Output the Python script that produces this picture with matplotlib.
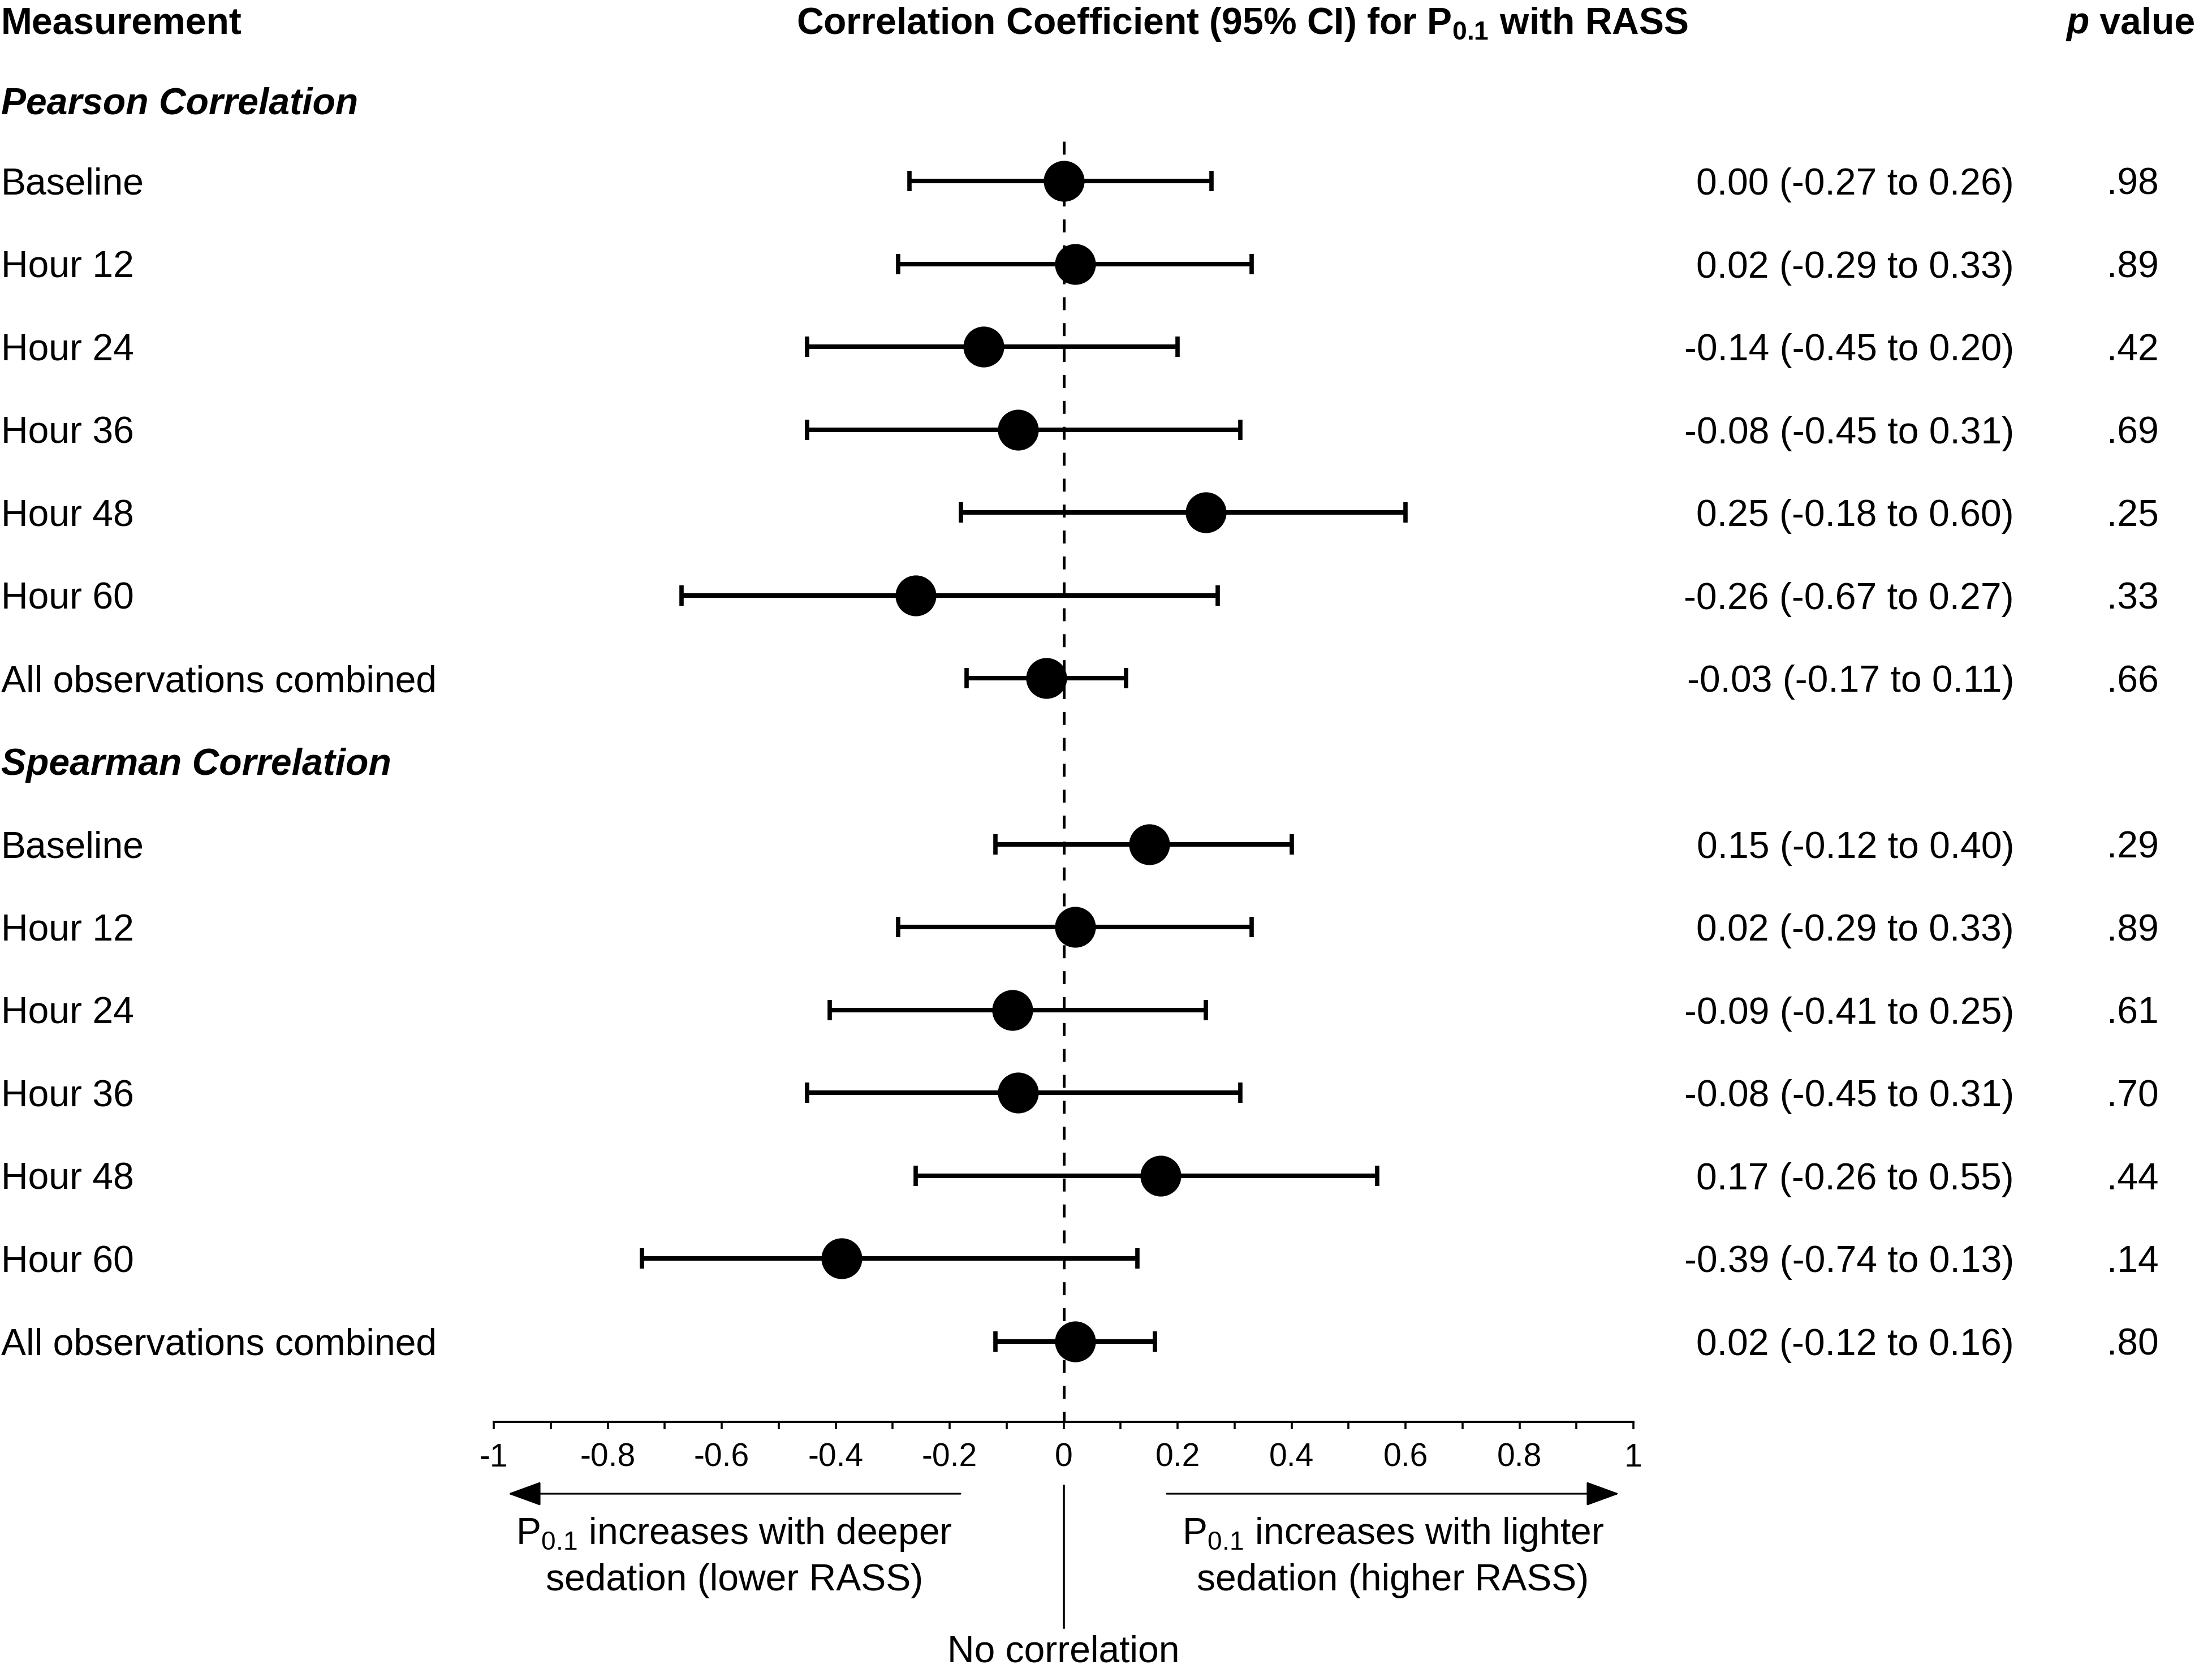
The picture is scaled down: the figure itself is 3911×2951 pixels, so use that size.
import numpy as np
import matplotlib
matplotlib.use("Agg")
import matplotlib.pyplot as plt
from matplotlib.ticker import FixedLocator

plt.rcParams['font.family'] = ['Liberation Sans', 'DejaVu Sans']
plt.rcParams['mathtext.fontset'] = 'custom'
plt.rcParams['mathtext.rm'] = 'Liberation Sans'
plt.rcParams['mathtext.it'] = 'Liberation Sans:italic'
plt.rcParams['mathtext.bf'] = 'Liberation Sans:bold'
plt.rcParams['lines.scale_dashes'] = False

# Data
measurements = ["Baseline", "Hour 12", "Hour 24", "Hour 36", "Hour 48", "Hour 60",
                "All observations combined"]

pearson_r = [0.00, 0.02, -0.14, -0.08, 0.25, -0.26, -0.03]
pearson_lo = [-0.27, -0.29, -0.45, -0.45, -0.18, -0.67, -0.17]
pearson_hi = [0.26, 0.33, 0.20, 0.31, 0.60, 0.27, 0.11]
pearson_p = [0.98, 0.89, 0.42, 0.69, 0.25, 0.33, 0.66]

spearman_r = [0.15, 0.02, -0.09, -0.08, 0.17, -0.39, 0.02]
spearman_lo = [-0.12, -0.29, -0.41, -0.45, -0.26, -0.74, -0.12]
spearman_hi = [0.40, 0.33, 0.25, 0.31, 0.55, 0.13, 0.16]
spearman_p = [0.29, 0.89, 0.61, 0.70, 0.44, 0.14, 0.80]

tick_values = [-1, -0.8, -0.6, -0.4, -0.2, 0, 0.2, 0.4, 0.6, 0.8, 1]
minor_values = [-0.9, -0.7, -0.5, -0.3, -0.1, 0.1, 0.3, 0.5, 0.7, 0.9]

FS = 47.5

fig = plt.figure(figsize=(39.11, 29.51), dpi=100)
ax = fig.add_axes([873 / 3911, 437 / 2951, 2015 / 3911, 2514 / 2951])
ax.set_xlim(-1, 1)
ax.set_ylim(16.969, -0.183)

for side in ['top', 'left', 'right']:
    ax.spines[side].set_visible(False)
ax.spines['bottom'].set_linewidth(2.8)
ax.set_yticks([])

ax.xaxis.set_major_locator(FixedLocator(tick_values))
ax.xaxis.set_minor_locator(FixedLocator(minor_values))
ax.set_xticklabels([f"{v:g}" for v in tick_values])
ax.tick_params(axis='x', which='both', direction='out', length=9.5, width=2.6,
               pad=17, labelsize=41)

# dashed line of no effect
ax.plot([0, 0], [1.52, 16.969], color='black', lw=3.6,
        ls=(0, (16.5, 16.5)), zorder=1)

# each block: section title row, then the measurement rows
blocks = [
    ("Pearson Correlation", 1.025, 2, pearson_r, pearson_lo, pearson_hi, pearson_p),
    ("Spearman Correlation", 9, 10, spearman_r, spearman_lo, spearman_hi, spearman_p),
]

x_left = -1.8645
x_ci = 1.668
x_p = 1.922

for title, title_row, first_row, r, lo, hi, p in blocks:
    rows = np.arange(first_row, first_row + len(r))
    r = np.array(r)
    err = [r - np.array(lo), np.array(hi) - r]
    ax.errorbar(r, rows, xerr=err, fmt='o', color='black', mfc='black', mec='black',
                ms=51, elinewidth=5.8, capsize=13.3, capthick=5.5, zorder=3)
    ax.text(x_left, title_row, title, fontsize=FS, fontweight='bold', fontstyle='italic',
            ha='left', va='center_baseline')
    for row, name, est, l, h, pv in zip(rows, measurements, r, lo, hi, p):
        ax.text(x_left, row, name, fontsize=FS, ha='left', va='center_baseline')
        ax.text(x_ci, row, f"{est:.2f} ({l:.2f} to {h:.2f})", fontsize=FS,
                ha='right', va='center_baseline')
        ax.text(x_p, row, f"{pv:.2f}".lstrip('0'), fontsize=FS,
                ha='right', va='center_baseline')

# column headers
ax.text(x_left, 0.056, "Measurement", fontsize=FS, fontweight='bold',
        ha='left', va='center_baseline')
ax.text(0.314, 0.056, r"Correlation Coefficient (95% CI) for $\mathbf{P}_{\mathbf{0.1}}$ with RASS",
        fontsize=FS, fontweight='bold', ha='center', va='center_baseline')
val = ax.text(1.986, 0.056, " value", fontsize=FS, fontweight='bold',
              ha='right', va='center_baseline')
ax.annotate("p", xy=(0, 0), xycoords=val, fontsize=FS, fontweight='bold',
            fontstyle='italic', ha='right', va='bottom')

# direction arrows and notes under the axis
arrow_kw = dict(arrowstyle="-|>,head_length=3.7,head_width=1.35", color='black',
                lw=2.2, shrinkA=0, shrinkB=0, mutation_scale=10)
ax.annotate("", xy=(-0.975, 17.836), xytext=(-0.181, 17.836), arrowprops=arrow_kw,
            annotation_clip=False)
ax.annotate("", xy=(0.975, 17.836), xytext=(0.181, 17.836), arrowprops=arrow_kw,
            annotation_clip=False)
ax.plot([0, 0], [17.74, 19.45], color='black', lw=2.6, clip_on=False)

ax.text(-0.578, 18.27, r"$\mathrm{P}_{0.1}$ increases with deeper", fontsize=FS,
        ha='center', va='center_baseline')
ax.text(-0.578, 18.84, "sedation (lower RASS)", fontsize=FS,
        ha='center', va='center_baseline')
ax.text(0.578, 18.27, r"$\mathrm{P}_{0.1}$ increases with lighter", fontsize=FS,
        ha='center', va='center_baseline')
ax.text(0.578, 18.84, "sedation (higher RASS)", fontsize=FS,
        ha='center', va='center_baseline')
ax.text(0, 19.70, "No correlation", fontsize=FS, ha='center', va='center_baseline')

fig.savefig("out.png", dpi=100, facecolor='white')
